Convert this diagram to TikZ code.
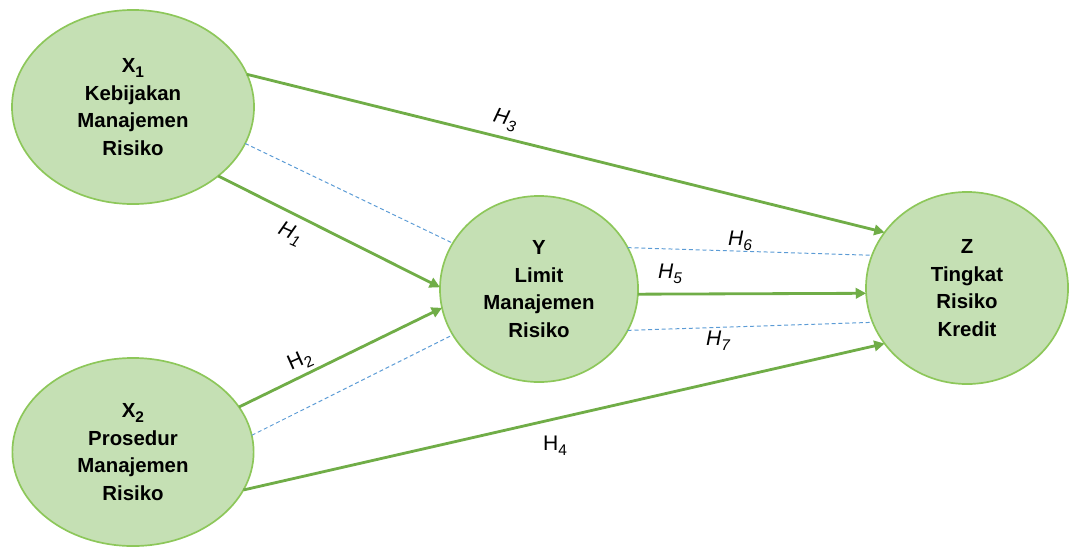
\documentclass[tikz,border=0pt]{standalone}
\usepackage{fontspec}
\setmainfont{Liberation Sans}
\usetikzlibrary{arrows.meta,shapes.geometric}
\definecolor{varfill}{HTML}{C5E0B4}
\definecolor{varline}{HTML}{8DC75A}
\definecolor{hypgreen}{HTML}{70AD47}
\definecolor{medblue}{HTML}{5B9BD5}
\newcommand{\hyplabel}[1]{H\raisebox{-0.45ex}{\fontsize{11}{11}\selectfont #1}}
\newcommand{\varsub}[1]{\raisebox{-0.45ex}{\fontsize{11}{11}\selectfont #1}}
\tikzset{
  varnode/.style={ellipse, draw=varline, fill=varfill, line width=1.2pt,
    inner sep=0pt, outer sep=0pt, align=center,
    font=\fontsize{14.5}{19.5}\selectfont\bfseries},
  hyp/.style={-{Triangle[length=2.6mm,width=2.6mm]}, line width=2pt, draw=hypgreen},
  med/.style={draw=medblue, line width=0.7pt, dash pattern=on 1mm off 0.7mm},
  hlabel/.style={font=\fontsize{15}{16}\selectfont\itshape, inner sep=0pt},
  hlabelup/.style={font=\fontsize{15}{16}\selectfont, inner sep=0pt}
}
\begin{document}
\begin{tikzpicture}[x=0.025cm, y=-0.025cm]
    \useasboundingbox (0,0) rectangle (1069,546);

    % Variables
    \node[varnode, minimum width=6.05cm, minimum height=4.85cm] (x1) at (133,107)
        {X\varsub{1}\\Kebijakan\\Manajemen\\Risiko};
    \node[varnode, minimum width=6.03cm, minimum height=4.7cm] (x2) at (133,452)
        {X\varsub{2}\\Prosedur\\Manajemen\\Risiko};
    \node[varnode, minimum width=4.95cm, minimum height=4.65cm] (y) at (539,289)
        {Y\\Limit\\Manajemen\\Risiko};
    \node[varnode, minimum width=5.05cm, minimum height=4.8cm] (z) at (967,288)
        {Z\\Tingkat\\Risiko\\Kredit};

    % Mediation lines
    \draw[med] (x1.-18) -- (y.152);
    \draw[med] (x2.8) -- (y.208);
    \draw[med] (y.25) -- (z.161);
    \draw[med] (y.-25) -- (z.200);

    % Direct paths
    \draw[hyp] (x1.16) -- (z.146);
    \draw[hyp] (x1.-39) -- (y.179);
    \draw[hyp] (x2.23) -- (y.191);
    \draw[hyp] (x2.-19) -- (z.214);
    \draw[hyp] (y.-3) -- (z.183);

    % Hypothesis labels
    \node[hlabel, rotate=-14] (h3) at (505,120) {\hyplabel{3}};
    \node[hlabel, rotate=-24] (h1) at (290,234) {\hyplabel{1}};
    \node[hlabelup, rotate=24] (h2) at (300,361) {\hyplabel{2}};
    \node[hlabelup] (h4) at (555,446) {\hyplabel{4}};
    \node[hlabel] (h6) at (740,241) {\hyplabel{6}};
    \node[hlabel] (h5) at (670,274) {\hyplabel{5}};
    \node[hlabel] (h7) at (718,341) {\hyplabel{7}};
\end{tikzpicture}
\end{document}
